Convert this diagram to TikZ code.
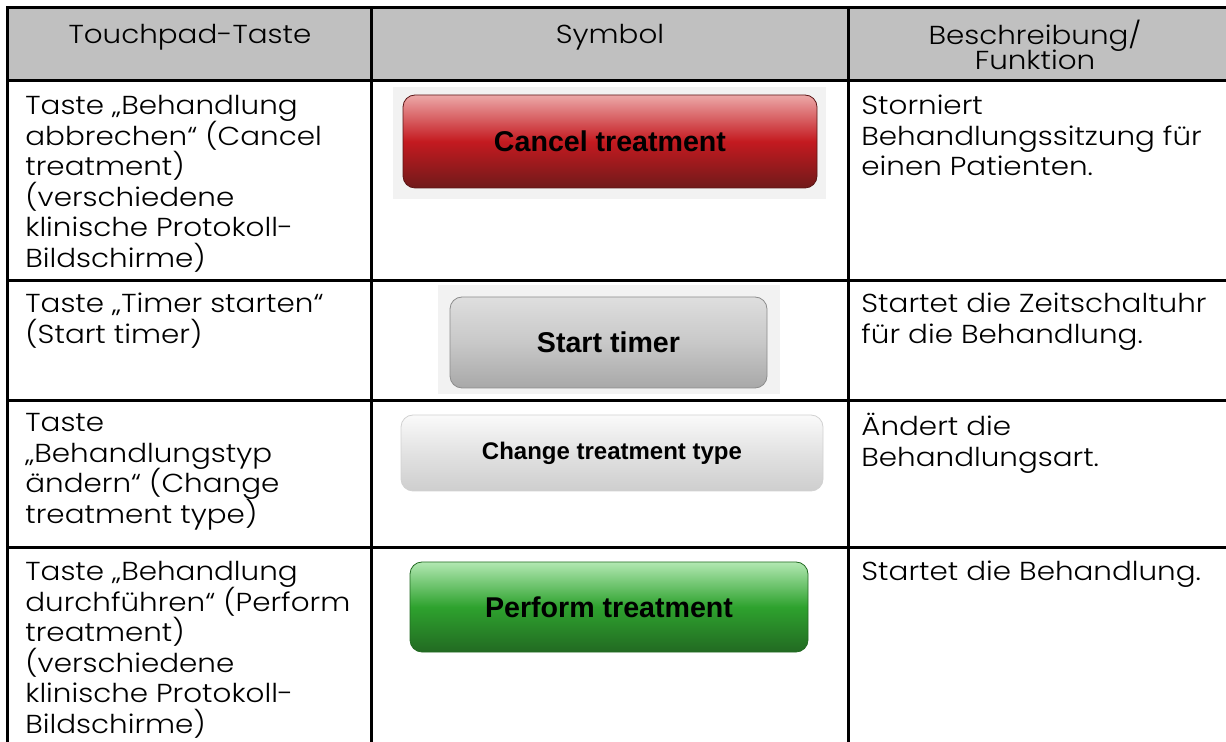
\documentclass[tikz,border=0pt]{standalone}
\usepackage{fontspec}
\setmainfont{Poppins}[UprightFont=* Light, FakeStretch=1.13]
\newfontfamily\btnfont{Liberation Sans}
\lineskiplimit=-5pt
\definecolor{hgray}{RGB}{192,192,192}
\definecolor{pane}{RGB}{242,242,242}
\definecolor{redtop}{RGB}{236,168,168}
\definecolor{redmid}{RGB}{196,26,32}
\definecolor{redbot}{RGB}{112,26,26}
\definecolor{greytop}{RGB}{222,222,222}
\definecolor{greymid}{RGB}{200,200,200}
\definecolor{greybot}{RGB}{168,168,168}
\definecolor{pltop}{RGB}{250,250,250}
\definecolor{plmid}{RGB}{226,226,226}
\definecolor{plbot}{RGB}{206,206,206}
\definecolor{grntop}{RGB}{178,232,178}
\definecolor{grnmid}{RGB}{46,162,46}
\definecolor{grnbot}{RGB}{34,106,34}
\tikzset{
  rule/.style = {line width=1.5pt, line cap=rect},
  headtext/.style = {anchor=north, inner sep=0, align=center, font=\fontsize{13}{12.5}\selectfont},
  celltext/.style = {anchor=north west, inner sep=0, align=left, font=\fontsize{13}{15.25}\selectfont},
  button/.style = {rounded corners=6pt, inner sep=0, font=\btnfont\bfseries\fontsize{14.3}{16}\selectfont},
}

\begin{document}
\begin{tikzpicture}[x=0.5pt, y=-0.5pt]
    \useasboundingbox (0, 0) rectangle (1226, 742);
    \fill [hgray] (7, 7.5) rectangle (1226, 81);

    % table rules
    \foreach \y in {7.5, 81, 281, 401, 548}{
      \draw [rule] (7, \y) -- (1226, \y);
    }
    \foreach \x in {7, 371, 848}{
      \draw [rule] (\x, 7.5) -- (\x, 742);
    }

    \node [headtext] (hkey) at (190, 24) {Touchpad-Taste};
    \node [headtext] (hsym) at (610, 24) {Symbol};
    \node [headtext] (hdesc) at (1035, 20) {Beschreibung/\\Funktion};

    \node [celltext] (keya) at (25, 95) {Taste „Behandlung\\abbrechen“ (Cancel\\treatment)\\(verschiedene\\klinische Protokoll-\\Bildschirme)};
    \node [celltext] (keyb) at (25, 293) {Taste „Timer starten“\\(Start timer)};
    \node [celltext] (keyc) at (25, 413) {Taste\\„Behandlungstyp\\ändern“ (Change\\treatment type)};
    \node [celltext] (keyd) at (25, 561) {Taste „Behandlung\\durchführen“ (Perform\\treatment)\\(verschiedene\\klinische Protokoll-\\Bildschirme)};

    \fill [pane] (393, 87) rectangle (826, 199);
    \fill [pane] (438, 285) rectangle (780, 394);
    \node [button, draw=redbot!80!black, top color=redtop, bottom color=redbot, middle color=redmid,
      minimum width=207pt, minimum height=46.5pt] (btna) at (610, 141.5) {Cancel treatment};
    \node [button, draw=black!45, top color=greytop, bottom color=greybot, middle color=greymid,
      minimum width=158.5pt, minimum height=45.5pt] (btnb) at (608.5, 342.5) {Start timer};
    \node [button, draw=black!18, top color=pltop, bottom color=plbot, middle color=plmid,
      minimum width=211pt, minimum height=38pt, font=\btnfont\bfseries\fontsize{12}{14}\selectfont] (btnc) at (612, 453) {Change treatment type};
    \node [button, draw=grnbot, top color=grntop, bottom color=grnbot, middle color=grnmid,
      minimum width=199pt, minimum height=45pt] (btnd) at (609, 607) {Perform treatment};

    \node [celltext] (desca) at (861, 95) {Storniert\\Behandlungssitzung für\\einen Patienten.};
    \node [celltext] (descb) at (861, 293) {Startet die Zeitschaltuhr\\für die Behandlung.};
    \node [celltext] (descc) at (861, 413) {Ändert die\\Behandlungsart.};
    \node [celltext] (descd) at (861, 561) {Startet die Behandlung.};
  \end{tikzpicture}
\end{document}
